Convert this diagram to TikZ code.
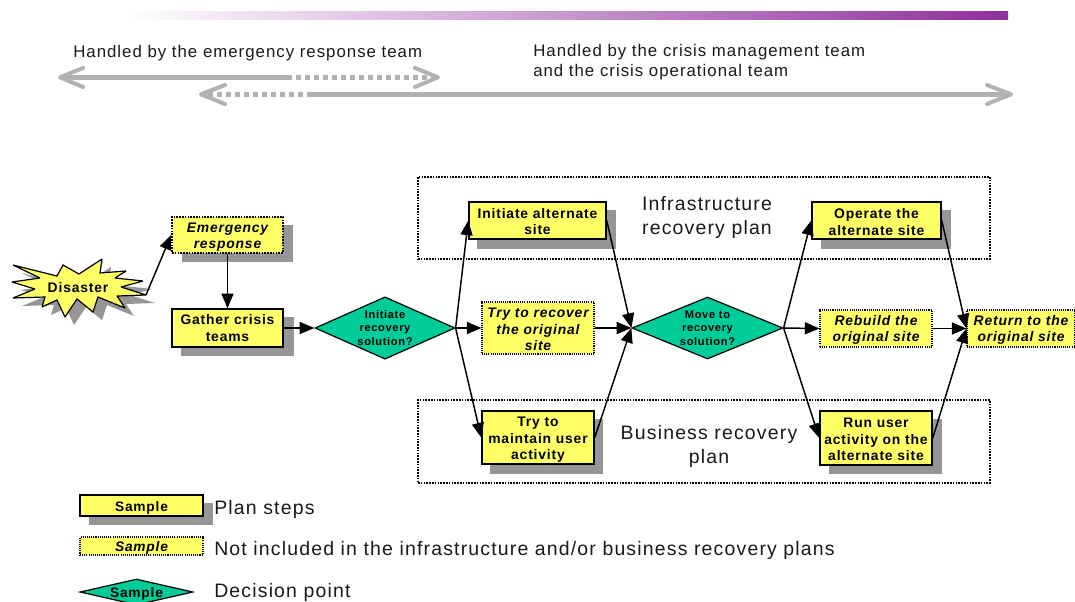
\documentclass[tikz,border=0pt]{standalone}
\usepackage{fontspec}
\setmainfont[LetterSpace=6]{Liberation Sans}
\usetikzlibrary{arrows.meta,shapes.geometric}
\definecolor{stepyellow}{HTML}{FFFF66}
\definecolor{decisiongreen}{HTML}{00CC99}
\definecolor{shadowgray}{HTML}{969696}
\definecolor{bandgray}{HTML}{B2B2B2}
\definecolor{barpurple}{HTML}{8E2F9C}
\definecolor{inktext}{HTML}{1A1A1A}
\tikzset{
  x=0.75pt,y=-0.75pt,
  planstep/.style={draw=black,line width=1.1pt,fill=stepyellow,inner sep=0pt,align=center,text=black,font=\fontsize{10.4}{12.5}\selectfont\bfseries},
  offplan/.style={draw=black,line width=0.8pt,dash pattern=on 0.8pt off 0.8pt,fill=stepyellow,inner sep=0pt,align=center,text=black,font=\fontsize{10.4}{12.5}\selectfont\bfseries\itshape},
  offplanstrong/.style={offplan,line width=1.2pt,dash pattern=on 1.2pt off 0.9pt},
  decision/.style={diamond,draw=black,line width=0.9pt,fill=decisiongreen,inner sep=0pt,aspect=2,align=center,text=black,font=\fontsize{8.3}{10}\selectfont\bfseries},
  shadowbox/.style={fill=shadowgray,draw=none},
  planbox/.style={draw=black,line width=1.2pt,dash pattern=on 1.2pt off 0.9pt},
  biglabel/.style={align=center,text=inktext,font=\fontsize{14.6}{18}\selectfont,inner sep=0pt},
  toplabel/.style={align=left,anchor=west,text=inktext,font=\fontsize{12.6}{15}\selectfont,inner sep=0pt},
  legendlabel/.style={anchor=west,text=inktext,font=\fontsize{14.6}{16}\selectfont,inner sep=0pt},
  flow/.style={draw=black,line width=1.1pt,-{Triangle[length=11pt,width=9pt]}},
  band/.style={draw=bandgray,line width=3.6pt},
  banddots/.style={draw=bandgray,line width=3.6pt,dash pattern=on 4.1pt off 2.65pt,dash phase=4.1pt},
  chevron/.style={draw=bandgray,line width=3pt,line cap=round,line join=round},
}
\newcommand{\bx}[7]{%
  \pgfmathsetmacro\bxw{(#5-#3)*.75}\pgfmathsetmacro\bxh{(#6-#4)*.75}%
  \node[#2,minimum width=\bxw pt,minimum height=\bxh pt] (#1) at ({(#3+#5)/2},{(#4+#6)/2}) {#7};}
\newcommand{\dn}[1]{\rule{0pt}{#1}}
\begin{document}
\begin{tikzpicture}
\clip (0,0) rectangle (1075,601);
\fill[white] (0,0) rectangle (1075,601);
% top bar
\shade[left color=white,right color=barpurple] (125,11) rectangle (1008,19);
% top labels
\node[toplabel] (lblA) at (73,53) {Handled by the emergency response team};
\node[toplabel] (lblB) at (533,62.5) {Handled by the crisis management team\\and the crisis operational team};
% span arrows
\coordinate (aL) at (60,77.3); \coordinate (aM) at (292,77.3); \coordinate (aR) at (438,77.3);
\coordinate (bL) at (201,94.3); \coordinate (bM) at (307,94.3); \coordinate (bR) at (1011,94.3);
\draw[band] (aL) -- (aM);
\draw[banddots] (aM) -- (aR);
\draw[banddots] (bM) -- (bL);
\draw[band] (bM) -- (bR);
\draw[chevron] (83,68) -- (aL) -- (83,87);
\draw[chevron] (415,68) -- (aR) -- (415,87);
\draw[chevron] (225,85) -- (bL) -- (225,104);
\draw[chevron] (987,85) -- (bR) -- (987,104);
% plan frames
\bx{infra}{planbox}{418}{177}{990}{259}{}
\bx{business}{planbox}{418}{400}{990}{483}{}
\node[biglabel] (infraLbl) at (707,217.5) {Infrastructure\\recovery plan};
\node[biglabel] (busLbl) at (709,446) {Business recovery\\plan};
% disaster star
\fill[shadowgray,shift={(9,8)}] (13,265)--(57,276)--(63,265)--(79,274)--(102,259)--(100,273)--(126,271)--(115,278)--(143,281)--(121,287)--(146,295)--(117,296)--(125,308)--(98,297)--(93,312)--(77,299)--(65,317)--(57,300)--(42,307)--(45,297)--(13,298)--(35,289)--(12,282)--(40,278)--cycle;
\draw[black,line width=0.9pt,fill=stepyellow,line join=miter,miter limit=2] (13,265)--(57,276)--(63,265)--(79,274)--(102,259)--(100,273)--(126,271)--(115,278)--(143,281)--(121,287)--(146,295)--(117,296)--(125,308)--(98,297)--(93,312)--(77,299)--(65,317)--(57,300)--(42,307)--(45,297)--(13,298)--(35,289)--(12,282)--(40,278)--cycle;
\node[font=\fontsize{10.4}{12.5}\selectfont\bfseries,inner sep=0pt] (disaster) at (78,288) {Disaster};
\coordinate (disasterTip) at (146,295);
% shadows
\fill[shadowbox] (182,225) rectangle (293,262);
\fill[shadowbox] (181,317) rectangle (294,356);
\fill[shadowbox] (477,210) rectangle (616,249);
\fill[shadowbox] (490,419) rectangle (603,474);
\fill[shadowbox] (821,210) rectangle (951,249);
\fill[shadowbox] (829,419) rectangle (942,474);
\fill[shadowbox] (89,503) rectangle (213,525);
% steps
\bx{emerg}{offplanstrong}{172}{217}{283}{253}{\dn{10.5pt}Emergency\\response}
\bx{gather}{planstep}{172}{309}{283}{347}{Gather crisis\\teams}
\bx{init}{decision}{315}{297}{455}{359}{Initiate\\recovery\\solution?}
\bx{alt}{planstep}{469}{202}{606}{239}{\dn{9pt}Initiate alternate\\site}
\bx{recover}{offplan}{482}{302}{594}{354}{\dn{9.5pt}Try to recover\\the original\\site}
\bx{maintain}{planstep}{482}{411}{594}{464}{\dn{10.5pt}Try to\\maintain user\\activity}
\bx{move}{decision}{632}{297}{783}{359}{Move to\\recovery\\solution?}
\bx{operate}{planstep}{812}{202}{941}{239}{\dn{9.5pt}Operate the\\alternate site}
\bx{rebuild}{offplan}{820}{310}{932}{347}{\dn{9.5pt}Rebuild the\\original site}
\bx{runuser}{planstep}{820}{411}{932}{465}{\dn{9.5pt}Run user\\activity on the\\alternate site}
\bx{return}{offplan}{967}{310}{1075}{347}{\dn{9.5pt}Return to the\\original site}
% connectors
\draw[flow] (disasterTip) -- (emerg.west);
\draw[flow] (emerg.south) -- (gather.north);
\draw[flow] (gather.east) -- (init.west);
\draw[flow] (init.east) -- (alt.west);
\draw[flow] (init.east) -- (recover.west);
\draw[flow] (init.east) -- (maintain.west);
\draw[flow] (alt.east) -- (move.west);
\draw[flow] (recover.east) -- (move.west);
\draw[flow] (maintain.east) -- (move.west);
\draw[flow] (move.east) -- (operate.west);
\draw[flow] (move.east) -- (rebuild.west);
\draw[flow] (move.east) -- (runuser.west);
\draw[flow] (operate.east) -- (return.west);
\draw[flow] (rebuild.east) -- (return.west);
\draw[flow] (runuser.east) -- (return.west);
% legend
\bx{legA}{planstep,font=\fontsize{10.3}{11}\selectfont\bfseries}{80}{495}{203}{516}{\dn{10.5pt}Sample}
\bx{legB}{offplan,font=\fontsize{10.3}{11}\selectfont\bfseries\itshape}{80}{537}{203}{555}{\dn{10.5pt}Sample}
\bx{legC}{decision,aspect=4.35,font=\fontsize{10.3}{11}\selectfont\bfseries}{80}{579}{193}{605}{\raisebox{-4.4pt}[0pt][0pt]{Sample}}
\node[legendlabel] (legAt) at (214,509) {Plan steps};
\node[legendlabel] (legBt) at (214,550.5) {Not included in the infrastructure and/or business recovery plans};
\node[legendlabel] (legCt) at (214,592) {Decision point};
\end{tikzpicture}
\end{document}
